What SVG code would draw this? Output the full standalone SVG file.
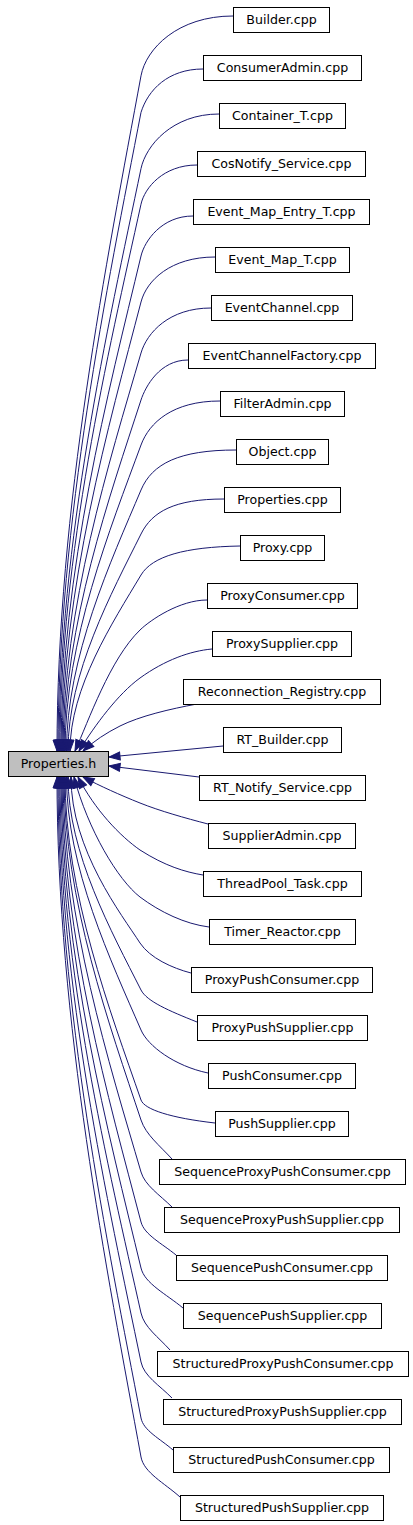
<svg xmlns="http://www.w3.org/2000/svg" width="413" height="1525" viewBox="0 0 413 1525">
<style>
.n rect{fill:#ffffff;stroke:#000000;stroke-width:1}
.n text{font-family:"DejaVu Sans",sans-serif;font-size:12.6px;fill:#000000;text-anchor:middle}
#root rect{fill:#bfbfbf}
.e path{fill:none;stroke:#191970;stroke-width:1;marker-end:url(#arr)}
</style>
<defs>
<marker id="arr" markerUnits="userSpaceOnUse" markerWidth="13" markerHeight="10" viewBox="-1 -1 13 10" refX="11" refY="4" orient="auto">
<path d="M0,0 L11,4 L0,8 z" fill="#191970" stroke="#191970" stroke-width="1"/>
</marker>
</defs>
<rect x="0" y="0" width="413" height="1525" fill="#ffffff"/>
<g class="e" id="edges">
<path d="M233,16 C177.8,16 146,48.7 141,75.8 C107.4,258.1 57,507.9 57,751"/>
<path d="M203,69 C168,69 148,90 141,112.4 C107.8,284.8 58,521.1 58,751"/>
<path d="M219,114 C172.2,114 145.8,145.7 141,168.6 C108.2,325.8 59,541.3 59,751"/>
<path d="M197,165 C163.4,165 144.6,187.8 141,204.2 C108.6,351.8 60,554.2 60,751"/>
<path d="M193,216 C161.8,216 144.6,240.8 141,256 C109,389.7 61,572.8 61,751"/>
<path d="M215,257 C170.6,257 146.6,280.5 141,302 C109.4,423.2 62,589.4 62,751"/>
<path d="M211,308 C169,308 146.9,332.8 141,353 C109.8,460.5 63,607.7 63,751"/>
<path d="M188,360 C159.8,360 145.4,386.6 141,400 C110.2,494.8 64,624.6 64,751"/>
<path d="M220,401 C172.6,401 149.2,422.7 141,445 C110.6,527.6 65,640.8 65,751"/>
<path d="M236,450 C179,450 152.1,463.7 141,490 C111.2,560.5 66.5,657 66.5,751"/>
<path d="M224,499 C174.2,499 152.1,511.7 141,534 C111.8,592.6 68,672.9 68,751"/>
<path d="M240,546 C185,547 152.3,556.1 141,575 C112.6,622.5 70,687.6 70,751"/>
<path d="M207,600 C180,600 150.8,619.6 140,630 C110,659 88.5,721 75,751"/>
<path d="M212,649 C190,651 165,660 140,678 C118,694 95,725 79,751"/>
<path d="M197,704 C170,709 140,716 120,726 C106,733 94,741 83,751"/>
<path d="M223,746 L109,757"/>
<path d="M199,777 L109,766"/>
<path d="M208,824 C185,818 160,811 140,803 C120,795 100,786 83,777"/>
<path d="M203,875 C185,872 165,866 140,850 C120,836 95,810 78,777"/>
<path d="M209,927 C185,924 160,912 140,897 C118,880 88,830 74,777"/>
<path d="M191,973 C172,968 150,958 140,943 C122,915 71,850 71,777"/>
<path d="M197,1022 C169,1010.8 146.8,1001.4 141,990 C111.8,932.2 68,853 68,777"/>
<path d="M208,1073 C174.5,1066 147.8,1045.8 141,1030 C111.2,961.4 66.5,867.4 66.5,777"/>
<path d="M215,1123 C171,1118 144.3,1109.5 141,1100 C110.6,1012.5 65,892.6 65,777"/>
<path d="M172,1159 C159.6,1145.4 145.9,1134.8 141,1120 C110.2,1027.1 64,899.8 64,777"/>
<path d="M172,1207 C159.6,1194.8 144.9,1185.4 141,1172 C109.8,1065.1 63,918.6 63,777"/>
<path d="M176,1255 C162,1243.5 144.4,1234.8 141,1222 C109.4,1101.6 62,936.6 62,777"/>
<path d="M183,1308 C166.2,1294 144.7,1283.6 141,1268 C109,1135.2 61,953.1 61,777"/>
<path d="M170,1350 C158.4,1337 144.2,1327.4 141,1313 C108.6,1168 60,969.3 60,777"/>
<path d="M172,1398 C159.6,1385.4 143.9,1376.1 141,1362 C108.2,1203.8 59,987 59,777"/>
<path d="M173,1450 C160.2,1438.8 143.4,1430.6 141,1418 C107.8,1244.7 58,1007.1 58,777"/>
<path d="M180,1497 C164.4,1483 143.9,1472.7 141,1457 C107.4,1273.1 57,1021.2 57,777"/>
</g>
<g class="n" id="root"><rect x="8.5" y="751.5" width="100" height="25"/><text x="58.5" y="768">Properties.h</text></g>
<g class="n" id="n0"><rect x="233.5" y="7.5" width="96" height="25"/><text x="281.5" y="24">Builder.cpp</text></g>
<g class="n" id="n1"><rect x="203.5" y="55.5" width="158" height="25"/><text x="282.5" y="72">ConsumerAdmin.cpp</text></g>
<g class="n" id="n2"><rect x="219.5" y="103.5" width="126" height="25"/><text x="282.5" y="120">Container_T.cpp</text></g>
<g class="n" id="n3"><rect x="197.5" y="151.5" width="168" height="25"/><text x="281.5" y="168">CosNotify_Service.cpp</text></g>
<g class="n" id="n4"><rect x="193.5" y="199.5" width="176" height="25"/><text x="281.5" y="216">Event_Map_Entry_T.cpp</text></g>
<g class="n" id="n5"><rect x="215.5" y="247.5" width="134" height="25"/><text x="282.5" y="264">Event_Map_T.cpp</text></g>
<g class="n" id="n6"><rect x="211.5" y="295.5" width="141" height="25"/><text x="282" y="312">EventChannel.cpp</text></g>
<g class="n" id="n7"><rect x="188.5" y="343.5" width="187" height="25"/><text x="282" y="360">EventChannelFactory.cpp</text></g>
<g class="n" id="n8"><rect x="220.5" y="391.5" width="124" height="25"/><text x="282.5" y="408">FilterAdmin.cpp</text></g>
<g class="n" id="n9"><rect x="236.5" y="439.5" width="92" height="25"/><text x="282.5" y="456">Object.cpp</text></g>
<g class="n" id="n10"><rect x="224.5" y="487.5" width="116" height="25"/><text x="282.5" y="504">Properties.cpp</text></g>
<g class="n" id="n11"><rect x="240.5" y="535.5" width="84" height="25"/><text x="282.5" y="552">Proxy.cpp</text></g>
<g class="n" id="n12"><rect x="207.5" y="583.5" width="150" height="25"/><text x="282.5" y="600">ProxyConsumer.cpp</text></g>
<g class="n" id="n13"><rect x="212.5" y="631.5" width="139" height="25"/><text x="282" y="648">ProxySupplier.cpp</text></g>
<g class="n" id="n14"><rect x="183.5" y="679.5" width="197" height="25"/><text x="282" y="696">Reconnection_Registry.cpp</text></g>
<g class="n" id="n15"><rect x="223.5" y="727.5" width="118" height="25"/><text x="282.5" y="744">RT_Builder.cpp</text></g>
<g class="n" id="n16"><rect x="199.5" y="775.5" width="166" height="25"/><text x="282.5" y="792">RT_Notify_Service.cpp</text></g>
<g class="n" id="n17"><rect x="208.5" y="823.5" width="147" height="25"/><text x="282" y="840">SupplierAdmin.cpp</text></g>
<g class="n" id="n18"><rect x="203.5" y="871.5" width="158" height="25"/><text x="282.5" y="888">ThreadPool_Task.cpp</text></g>
<g class="n" id="n19"><rect x="209.5" y="919.5" width="146" height="25"/><text x="282.5" y="936">Timer_Reactor.cpp</text></g>
<g class="n" id="n20"><rect x="191.5" y="967.5" width="181" height="25"/><text x="282" y="984">ProxyPushConsumer.cpp</text></g>
<g class="n" id="n21"><rect x="197.5" y="1015.5" width="170" height="25"/><text x="282.5" y="1032">ProxyPushSupplier.cpp</text></g>
<g class="n" id="n22"><rect x="208.5" y="1063.5" width="147" height="25"/><text x="282" y="1080">PushConsumer.cpp</text></g>
<g class="n" id="n23"><rect x="215.5" y="1111.5" width="133" height="25"/><text x="282" y="1128">PushSupplier.cpp</text></g>
<g class="n" id="n24"><rect x="159.5" y="1159.5" width="246" height="25"/><text x="282.5" y="1176">SequenceProxyPushConsumer.cpp</text></g>
<g class="n" id="n25"><rect x="164.5" y="1207.5" width="235" height="25"/><text x="282" y="1224">SequenceProxyPushSupplier.cpp</text></g>
<g class="n" id="n26"><rect x="176.5" y="1255.5" width="211" height="25"/><text x="282" y="1272">SequencePushConsumer.cpp</text></g>
<g class="n" id="n27"><rect x="183.5" y="1303.5" width="198" height="25"/><text x="282.5" y="1320">SequencePushSupplier.cpp</text></g>
<g class="n" id="n28"><rect x="157.5" y="1351.5" width="251" height="25"/><text x="283" y="1368">StructuredProxyPushConsumer.cpp</text></g>
<g class="n" id="n29"><rect x="163.5" y="1399.5" width="238" height="25"/><text x="282.5" y="1416">StructuredProxyPushSupplier.cpp</text></g>
<g class="n" id="n30"><rect x="173.5" y="1447.5" width="216" height="25"/><text x="281.5" y="1464">StructuredPushConsumer.cpp</text></g>
<g class="n" id="n31"><rect x="180.5" y="1495.5" width="203" height="25"/><text x="282" y="1512">StructuredPushSupplier.cpp</text></g>
</svg>
